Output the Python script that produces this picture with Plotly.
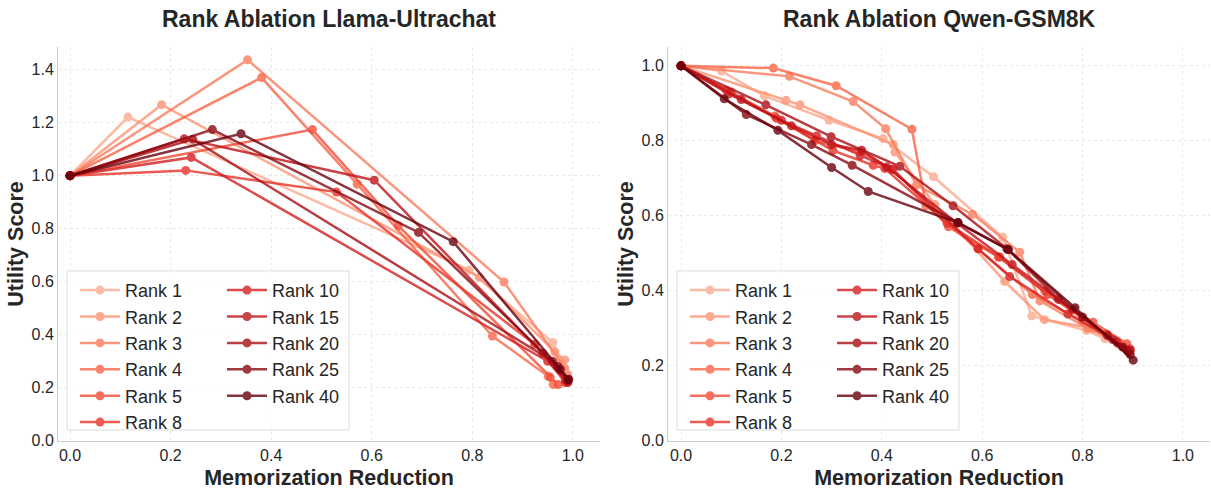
import plotly.graph_objects as go

ranks = ["Rank 1", "Rank 2", "Rank 3", "Rank 4", "Rank 5", "Rank 8",
         "Rank 10", "Rank 15", "Rank 20", "Rank 25", "Rank 40"]
colors = ["#fcab8e", "#fc9474", "#fb7d5d", "#fa6648", "#f34c37", "#e83429",
          "#d42021", "#bf151a", "#aa1016", "#8a0811", "#67000d"]

# ---- Llama-Ultrachat (left) ----
llama_x = [
    [0.0, 0.115, 0.794, 0.960, 0.975],
    [0.0, 0.182, 0.814, 0.964, 0.984],
    [0.0, 0.353, 0.863, 0.984, 0.989],
    [0.0, 0.381, 0.571, 0.840, 0.951, 0.961],
    [0.0, 0.482, 0.653, 0.955, 0.971],
    [0.0, 0.230, 0.530, 0.924, 0.985],
    [0.0, 0.241, 0.950, 0.985],
    [0.0, 0.227, 0.605, 0.940, 0.990],
    [0.0, 0.244, 0.960, 0.990],
    [0.0, 0.283, 0.693, 0.970, 0.990],
    [0.0, 0.340, 0.762, 0.975, 0.992],
]
llama_y = [
    [1.0, 1.221, 0.644, 0.371, 0.300],
    [1.0, 1.268, 0.617, 0.336, 0.305],
    [1.0, 1.437, 0.599, 0.274, 0.250],
    [1.0, 1.370, 0.968, 0.395, 0.243, 0.212],
    [1.0, 1.174, 0.811, 0.240, 0.212],
    [1.0, 1.020, 0.938, 0.364, 0.220],
    [1.0, 1.069, 0.300, 0.230],
    [1.0, 1.139, 0.983, 0.330, 0.220],
    [1.0, 1.137, 0.300, 0.225],
    [1.0, 1.174, 0.786, 0.280, 0.230],
    [1.0, 1.158, 0.751, 0.270, 0.232],
]

# ---- Qwen-GSM8K (right) ----
qwen_x = [
    [0.0, 0.081, 0.166, 0.295, 0.403, 0.503, 0.641, 0.699, 0.808, 0.845],
    [0.0, 0.209, 0.237, 0.423, 0.426, 0.506, 0.645, 0.724, 0.820, 0.870],
    [0.0, 0.216, 0.343, 0.408, 0.469, 0.581, 0.675, 0.715, 0.810, 0.868],
    [0.0, 0.184, 0.309, 0.460, 0.488, 0.592, 0.700, 0.800, 0.870, 0.890],
    [0.0, 0.090, 0.187, 0.267, 0.357, 0.423, 0.533, 0.632, 0.725, 0.821, 0.888],
    [0.0, 0.100, 0.190, 0.303, 0.383, 0.406, 0.530, 0.635, 0.730, 0.848, 0.891],
    [0.0, 0.095, 0.200, 0.270, 0.357, 0.420, 0.592, 0.655, 0.771, 0.868, 0.895],
    [0.0, 0.120, 0.220, 0.300, 0.360, 0.410, 0.550, 0.660, 0.780, 0.860, 0.895],
    [0.0, 0.169, 0.299, 0.436, 0.542, 0.652, 0.752, 0.850, 0.890],
    [0.0, 0.130, 0.260, 0.341, 0.552, 0.649, 0.800, 0.880, 0.895],
    [0.0, 0.086, 0.193, 0.300, 0.373, 0.552, 0.652, 0.785, 0.901],
]
qwen_y = [
    [1.0, 0.986, 0.920, 0.855, 0.806, 0.704, 0.543, 0.333, 0.294, 0.272],
    [1.0, 0.908, 0.896, 0.790, 0.770, 0.630, 0.425, 0.323, 0.300, 0.260],
    [1.0, 0.972, 0.905, 0.832, 0.682, 0.604, 0.503, 0.373, 0.300, 0.264],
    [1.0, 0.994, 0.947, 0.831, 0.627, 0.512, 0.390, 0.320, 0.260, 0.240],
    [1.0, 0.935, 0.866, 0.800, 0.770, 0.724, 0.571, 0.490, 0.399, 0.316, 0.259],
    [1.0, 0.930, 0.860, 0.774, 0.735, 0.726, 0.580, 0.490, 0.390, 0.285, 0.237],
    [1.0, 0.925, 0.855, 0.813, 0.760, 0.724, 0.512, 0.438, 0.338, 0.264, 0.245],
    [1.0, 0.910, 0.840, 0.790, 0.775, 0.730, 0.580, 0.470, 0.350, 0.270, 0.240],
    [1.0, 0.896, 0.811, 0.732, 0.627, 0.510, 0.377, 0.280, 0.240],
    [1.0, 0.870, 0.790, 0.735, 0.582, 0.512, 0.330, 0.250, 0.230],
    [1.0, 0.912, 0.828, 0.729, 0.665, 0.582, 0.510, 0.355, 0.215],
]

FONT = "Liberation Sans, Arial, sans-serif"
fig = go.Figure()

for i, name in enumerate(ranks):
    col1 = i < 6
    fig.add_trace(go.Scatter(
        x=llama_x[i], y=llama_y[i], mode="lines+markers", name=name,
        line=dict(color=colors[i], width=2.5), marker=dict(size=9, color=colors[i]),
        opacity=0.8, xaxis="x", yaxis="y",
        legend="legend" if col1 else "legend2"))
for i, name in enumerate(ranks):
    col1 = i < 6
    fig.add_trace(go.Scatter(
        x=qwen_x[i], y=qwen_y[i], mode="lines+markers", name=name,
        line=dict(color=colors[i], width=2.5), marker=dict(size=9, color=colors[i]),
        opacity=0.8, xaxis="x2", yaxis="y2",
        legend="legend3" if col1 else "legend4"))

W, H = 1211, 491
dom_y = [(H - 449) / H, (H - 48) / H]
dom_x1 = [58 / W, 600 / W]
dom_x2 = [668 / W, 1210 / W]

axis_common = dict(
    showgrid=True, gridcolor="#e9e9e9", griddash="3px,3px", gridwidth=1,
    showline=True, linecolor="#cccccc", linewidth=1, ticks="",
    zeroline=False, tickfont=dict(size=16, color="#262626", family=FONT),
    title_font=dict(size=21.5, color="#262626", family=FONT),
)

leg_common = dict(
    bgcolor="rgba(0,0,0,0)", borderwidth=0, font=dict(size=18, color="#262626", family=FONT),
    itemwidth=40, xanchor="left", yanchor="top", tracegroupgap=0,
)

fig.update_layout(
    width=W, height=H, margin=dict(l=0, r=0, t=0, b=0),
    paper_bgcolor="white", plot_bgcolor="white",
    font=dict(family=FONT),
    xaxis=dict(domain=dom_x1, range=[-0.024, 1.054], tickvals=[0, 0.2, 0.4, 0.6, 0.8, 1.0],
               tickformat=".1f", title=dict(text="<b>Memorization Reduction</b>", standoff=6),
               anchor="y", **axis_common),
    yaxis=dict(domain=dom_y, range=[0, 1.485], tickvals=[0, 0.2, 0.4, 0.6, 0.8, 1.0, 1.2, 1.4],
               tickformat=".1f", title=dict(text="<b>Utility Score</b>", standoff=2),
               anchor="x", **axis_common),
    xaxis2=dict(domain=dom_x2, range=[-0.026, 1.054], tickvals=[0, 0.2, 0.4, 0.6, 0.8, 1.0],
                tickformat=".1f", title=dict(text="<b>Memorization Reduction</b>", standoff=6),
                anchor="y2", **axis_common),
    yaxis2=dict(domain=dom_y, range=[0, 1.05], tickvals=[0, 0.2, 0.4, 0.6, 0.8, 1.0],
                tickformat=".1f", title=dict(text="<b>Utility Score</b>", standoff=2),
                anchor="x2", **axis_common),
    legend=dict(x=75 / W, y=(H - 277) / H, **leg_common),
    legend2=dict(x=222 / W, y=(H - 277) / H, **leg_common),
    legend3=dict(x=685 / W, y=(H - 277) / H, **leg_common),
    legend4=dict(x=832 / W, y=(H - 277) / H, **leg_common),
    showlegend=True,
)

# legend frames
for x0, x1 in [(67, 349), (677, 959)]:
    fig.add_shape(type="rect", xref="paper", yref="paper",
                  x0=x0 / W, x1=x1 / W, y0=(H - 438) / H, y1=(H - 276) / H,
                  line=dict(color="#dddddd", width=1), fillcolor="rgba(255,255,255,0.8)",
                  layer="above")

for cx, txt in [((58 + 600) / 2 / W, "Rank Ablation Llama-Ultrachat"),
                ((668 + 1210) / 2 / W, "Rank Ablation Qwen-GSM8K")]:
    fig.add_annotation(x=cx, y=1 - 19 / H, xref="paper", yref="paper", showarrow=False,
                       text="<b>" + txt + "</b>", font=dict(size=23, color="#262626", family=FONT),
                       xanchor="center", yanchor="middle")

fig.write_html("out.html")
